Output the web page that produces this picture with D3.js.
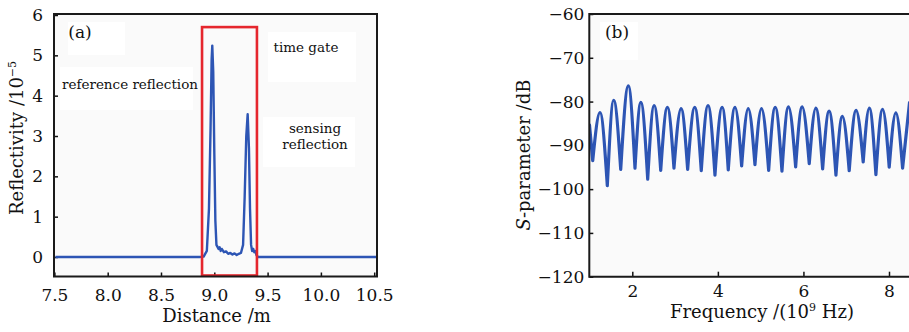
<!DOCTYPE html>
<html lang="en">
<head>
<meta charset="UTF-8">
<title>Reflectivity and S-parameter</title>
<script src="https://d3js.org/d3.v7.min.js"></script>
<style>
  body { margin: 0; background: #fff; }
  text { font-family: "DejaVu Serif", serif; fill: #111; }
</style>
</head>
<body>
<svg id="chart" width="909" height="332"></svg>
<script>
// ---- (a) reflectivity vs distance, in 1e-5 ----
const distA = [7.51, 8.86, 8.90, 8.93, 8.95, 8.965, 8.975, 8.981, 8.99, 9.00, 9.01, 9.02,
    9.03, 9.04, 9.05, 9.06, 9.07, 9.09, 9.11, 9.13, 9.15, 9.17, 9.19, 9.21, 9.23, 9.25,
    9.27, 9.285, 9.30, 9.313, 9.325, 9.335, 9.345, 9.355, 9.365, 9.375, 9.385, 9.395, 9.41, 10.52];
const reflA = [0, 0, 0.01, 0.15, 1.2, 3.2, 4.9, 5.24, 4.6, 2.6, 0.9, 0.3,
    0.25, 0.2, 0.24, 0.15, 0.2, 0.12, 0.14, 0.08, 0.1, 0.06, 0.09, 0.05, 0.08, 0.1,
    0.3, 1.5, 3.0, 3.54, 2.7, 1.2, 0.3, 0.15, 0.2, 0.12, 0.15, 0.05, 0, 0];
const xTicksA = [7.5, 8.0, 8.5, 9.0, 9.5, 10.0, 10.5];
const yTicksA = [0, 1, 2, 3, 4, 5, 6];
const gateA = [8.885, 9.40, 5.70];   // start, end, top

// ---- (b) S-parameter vs frequency (1e9 Hz), dB ----
const startB = [1.0, -85.4];
const dipF = [1.075, 1.416, 1.729, 2.063, 2.36, 2.664, 2.974, 3.294, 3.612, 3.932, 4.243, 4.556,
    4.867, 5.187, 5.498, 5.818, 6.136, 6.449, 6.76, 7.07, 7.397, 7.694, 8.005, 8.318];
const dipDb = [-93.5, -99.2, -95.5, -95.2, -97.7, -95.7, -95.2, -95.5, -95.8, -96.8, -95.6, -94.7,
    -94.4, -95.7, -95.9, -94.9, -94.2, -95.4, -96.8, -95.8, -93.8, -96.7, -95.0, -95.2];
const peakF = [1.245, 1.565, 1.907, 2.20, 2.51, 2.82, 3.14, 3.46, 3.77, 4.10, 4.40, 4.71,
    5.02, 5.34, 5.65, 5.97, 6.29, 6.60, 6.91, 7.23, 7.54, 7.85, 8.16];
const peakDb = [-82.5, -79.7, -76.4, -80.2, -80.9, -81.3, -81.6, -81.3, -80.9, -81.3, -81.3, -81.6,
    -81.6, -81.3, -81.2, -81.2, -81.5, -82.2, -83.4, -82.0, -81.5, -81.8, -82.6];
const endB = [8.48, -80.2];
const xTicksB = [2, 4, 6, 8];
const yTicksB = [-120, -110, -100, -90, -80, -70, -60];

const svg = d3.select('#chart');
const blue = '#2d55b4';
const tickFont = 17;

// ================= panel (a) =================
const fa = {left: 54, right: 377, top: 14, bottom: 276.5};
const xA = d3.scaleLinear().domain([7.5, 10.5]).range([54.4, 374.2]);
const yA = d3.scaleLinear().domain([0, 6]).range([257, 15]);

svg.append('rect')
    .attr('x', fa.left).attr('y', fa.top)
    .attr('width', fa.right - fa.left).attr('height', fa.bottom - fa.top)
    .attr('fill', '#fafafa');

// white label boxes
[[68, 22, 57, 33], [60, 67, 133, 43], [268, 32, 88, 50], [263, 117, 92, 50]].forEach(b => {
    svg.append('rect').attr('x', b[0]).attr('y', b[1]).attr('width', b[2]).attr('height', b[3])
        .attr('fill', '#fff');
});

svg.append('g')
    .attr('transform', `translate(0,${fa.bottom})`)
    .call(d3.axisBottom(xA).tickValues(xTicksA).tickFormat(d3.format('.1f'))
        .tickSizeInner(-4).tickSizeOuter(0).tickPadding(12))
    .call(g => g.select('.domain').remove())
    .call(g => g.selectAll('text').attr('font-size', tickFont))
    .call(g => g.selectAll('line').attr('stroke', '#111').attr('stroke-width', 1.5));

svg.append('g')
    .attr('transform', `translate(${fa.left},0)`)
    .call(d3.axisLeft(yA).tickValues(yTicksA).tickFormat(d3.format('d'))
        .tickSizeInner(-4).tickSizeOuter(0).tickPadding(11))
    .call(g => g.select('.domain').remove())
    .call(g => g.selectAll('text').attr('font-size', tickFont))
    .call(g => g.selectAll('line').attr('stroke', '#111').attr('stroke-width', 1.5));

const lineA = d3.line().x((d, i) => xA(distA[i])).y(d => yA(d));
svg.append('path')
    .datum(reflA)
    .attr('d', lineA)
    .attr('fill', 'none')
    .attr('stroke', blue)
    .attr('stroke-width', 2.4)
    .attr('stroke-linejoin', 'round');

// time gate
svg.append('rect')
    .attr('x', xA(gateA[0])).attr('y', yA(gateA[2]))
    .attr('width', xA(gateA[1]) - xA(gateA[0]))
    .attr('height', fa.bottom - yA(gateA[2]) - 1)
    .attr('fill', 'none')
    .attr('stroke', '#e5262d')
    .attr('stroke-width', 2.6);

svg.append('rect')
    .attr('x', fa.left).attr('y', fa.top)
    .attr('width', fa.right - fa.left).attr('height', fa.bottom - fa.top)
    .attr('fill', 'none').attr('stroke', '#1a1a1a').attr('stroke-width', 2);

svg.append('text').attr('x', 80).attr('y', 38).attr('text-anchor', 'middle')
    .attr('font-size', 17).text('(a)');
svg.append('text').attr('x', 62).attr('y', 89).attr('font-size', 13.5).text('reference reflection');
svg.append('text').attr('x', 306).attr('y', 52).attr('text-anchor', 'middle')
    .attr('font-size', 13.5).text('time gate');
svg.append('text').attr('x', 315).attr('y', 133).attr('text-anchor', 'middle')
    .attr('font-size', 13.5).text('sensing');
svg.append('text').attr('x', 315).attr('y', 149).attr('text-anchor', 'middle')
    .attr('font-size', 13.5).text('reflection');

svg.append('text').attr('x', 216.5).attr('y', 322).attr('text-anchor', 'middle')
    .attr('font-size', 18).text('Distance /m');

const ylabA = svg.append('text')
    .attr('transform', 'translate(23,138) rotate(-90)')
    .attr('text-anchor', 'middle')
    .attr('font-size', 18);
ylabA.append('tspan').text('Reflectivity /10');
ylabA.append('tspan').attr('dy', -7).attr('font-size', 11).text('\u22125');

// ================= panel (b) =================
const fb = {left: 589.3, right: 915, top: 14, bottom: 276.7};
const xB = d3.scaleLinear().domain([2, 8]).range([632.3, 889]);
const yB = d3.scaleLinear().domain([-120, -60]).range([fb.bottom, fb.top]);

svg.append('rect')
    .attr('x', fb.left).attr('y', fb.top)
    .attr('width', fb.right - fb.left).attr('height', fb.bottom - fb.top)
    .attr('fill', '#fafafa');
svg.append('rect').attr('x', 600).attr('y', 22).attr('width', 38).attr('height', 38).attr('fill', '#fff');

svg.append('g')
    .attr('transform', `translate(0,${fb.bottom})`)
    .call(d3.axisBottom(xB).tickValues(xTicksB).tickFormat(d3.format('d'))
        .tickSizeInner(-5).tickSizeOuter(0).tickPadding(8))
    .call(g => g.select('.domain').remove())
    .call(g => g.selectAll('text').attr('font-size', tickFont))
    .call(g => g.selectAll('line').attr('stroke', '#111').attr('stroke-width', 1.5));

svg.append('g')
    .attr('transform', `translate(${fb.left},0)`)
    .call(d3.axisLeft(yB).tickValues(yTicksB).tickFormat(d3.format('d'))
        .tickSizeInner(-4).tickSizeOuter(0).tickPadding(5))
    .call(g => g.select('.domain').remove())
    .call(g => g.selectAll('text').attr('font-size', tickFont))
    .call(g => g.selectAll('line').attr('stroke', '#111').attr('stroke-width', 1.5));

svg.append('clipPath').attr('id', 'clipB')
    .append('rect').attr('x', fb.left).attr('y', fb.top)
    .attr('width', 909 - fb.left).attr('height', fb.bottom - fb.top);

// each lobe runs dip -> peak -> dip, so the dips stay sharp
const dips = dipF.map((f, i) => [f, dipDb[i]]);
const peaks = peakF.map((f, i) => [f, peakDb[i]]);
const lobes = [[startB, dips[0]]];
peaks.forEach((p, i) => lobes.push([dips[i], p, dips[i + 1]]));
lobes.push([dips[dips.length - 1], endB]);

const lineB = d3.line().x(d => xB(d[0])).y(d => yB(d[1])).curve(d3.curveMonotoneX);
svg.append('path')
    .attr('clip-path', 'url(#clipB)')
    .attr('d', lobes.map(l => lineB(l)).join(''))
    .attr('fill', 'none')
    .attr('stroke', blue)
    .attr('stroke-width', 3.2)
    .attr('stroke-linejoin', 'round')
    .attr('stroke-linecap', 'round');

svg.append('path')
    .attr('d', `M${fb.right},${fb.top}H${fb.left}V${fb.bottom}H${fb.right}`)
    .attr('fill', 'none').attr('stroke', '#1a1a1a').attr('stroke-width', 2);

svg.append('text').attr('x', 617).attr('y', 38).attr('text-anchor', 'middle')
    .attr('font-size', 17).text('(b)');

const xlabB = svg.append('text').attr('x', 762).attr('y', 318).attr('text-anchor', 'middle')
    .attr('font-size', 18);
xlabB.append('tspan').text('Frequency /(10');
xlabB.append('tspan').attr('dy', -7).attr('font-size', 11).text('9');
xlabB.append('tspan').attr('dy', 7).text(' Hz)');

const ylabB = svg.append('text')
    .attr('transform', 'translate(530,155) rotate(-90)')
    .attr('text-anchor', 'middle')
    .attr('font-size', 18);
ylabB.append('tspan').attr('font-style', 'italic').text('S');
ylabB.append('tspan').text('-parameter /dB');
</script>
</body>
</html>
